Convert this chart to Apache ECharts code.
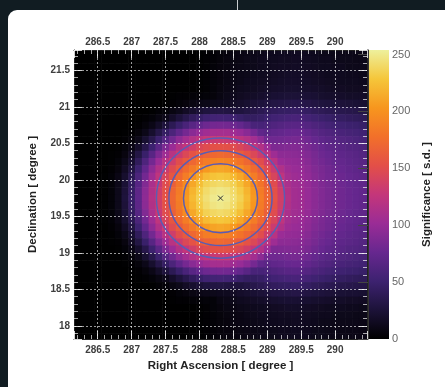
<!DOCTYPE html>
<html>
<head>
<meta charset="utf-8">
<script src="https://cdn.jsdelivr.net/npm/echarts@6.0.0/dist/echarts.min.js"></script>
<style>
  html, body { margin: 0; padding: 0; width: 445px; height: 387px; overflow: hidden; background: #111c22; }
  .card { position: absolute; left: 8px; top: 10px; width: 470px; height: 400px; background: #fff; border-radius: 9px; }
  .sep { position: absolute; left: 237px; top: 0; width: 1px; height: 10px; background: #c9cdd0; }
  #chart { position: absolute; left: 0; top: 0; width: 445px; height: 387px; }
</style>
</head>
<body>
<div class="card"></div>
<div class="sep"></div>
<div id="chart"></div>
<script>
// bin centres (degrees)
const raBins = [286.2, 286.3, 286.4, 286.5, 286.6, 286.7, 286.8, 286.9, 287.0, 287.1, 287.2,
  287.3, 287.4, 287.5, 287.6, 287.7, 287.8, 287.9, 288.0, 288.1, 288.2, 288.3,
  288.4, 288.5, 288.6, 288.7, 288.8, 288.9, 289.0, 289.1, 289.2, 289.3, 289.4,
  289.5, 289.6, 289.7, 289.8, 289.9, 290.0, 290.1, 290.2, 290.3, 290.4, 290.5];
const decBins = [21.75, 21.65, 21.55, 21.45, 21.35, 21.25, 21.15, 21.05, 20.95, 20.85,
  20.75, 20.65, 20.55, 20.45, 20.35, 20.25, 20.15, 20.05, 19.95, 19.85,
  19.75, 19.65, 19.55, 19.45, 19.35, 19.25, 19.15, 19.05, 18.95, 18.85,
  18.75, 18.65, 18.55, 18.45, 18.35, 18.25, 18.15, 18.05, 17.95, 17.85];

// significance per bin, rows top (21.75) to bottom (17.85), columns 286.2 -> 290.5
const sig = [
  [0,0,0,0,0,0,0,0,0,0,0,0,0,0,0,0,0,0,1,2,3, 5,6,8,9,10,11,12,13,13,14,14,15,15,14,13,12,12,11,11,11,11,10,10],
  [0,0,0,0,0,0,0,0,0,0,0,0,0,0,0,0,0,0,1,2,3, 5,7,8,9,11,12,13,14,14,15,15,16,16,15,14,13,13,12,12,12,11,11,11],
  [0,0,0,0,0,0,0,0,0,0,0,0,0,0,0,0,0,0,1,2,4, 6,7,9,10,11,12,13,14,15,16,16,17,17,16,15,14,14,13,13,12,12,12,12],
  [0,0,0,0,0,0,0,0,0,0,0,0,0,0,0,0,0,0,1,2,4, 6,8,9,11,12,13,14,15,16,17,18,18,18,17,16,15,14,14,14,13,13,12,12],
  [0,0,0,0,0,0,0,0,0,0,0,0,0,0,0,0,0,0,1,2,4, 6,8,10,11,13,14,15,16,17,18,19,19,19,18,17,16,15,15,14,14,14,13,13],
  [0,0,0,0,0,0,0,0,0,0,0,0,0,0,0,0,0,0,1,2,4, 7,9,11,13,14,15,17,18,19,20,21,21,21,20,19,18,17,16,16,15,15,15,14],
  [0,0,0,0,0,0,0,0,0,0,0,0,0,0,1,2,2,3,3,4,5, 8,11,13,15,17,18,20,22,23,24,25,25,25,24,23,21,20,20,19,18,18,18,17],
  [0,0,0,0,0,0,0,0,0,0,0,0,0,1,2,4,6,8,10,11,12, 13,14,18,20,22,25,27,29,31,32,33,34,34,32,30,28,27,26,26,25,24,23,23],
  [0,0,0,0,0,0,0,0,0,0,0,1,3,4,8,12,17,21,25,28,30, 31,30,28,28,31,34,37,40,42,44,45,46,46,44,41,39,37,36,35,34,33,32,32],
  [0,0,0,0,0,0,0,0,0,1,2,4,8,12,19,27,35,42,47,52,54, 55,54,52,47,44,44,46,50,53,55,57,58,58,55,52,49,47,45,44,42,41,40,40],
  [0,0,0,0,0,0,0,0,1,2,5,10,18,27,38,48,58,67,74,79,82, 83,82,79,74,67,58,57,59,62,65,67,68,68,65,61,58,55,53,52,50,49,47,47],
  [0,0,0,0,0,0,0,1,2,5,11,21,33,45,59,72,83,93,100,105,108, 109,108,105,100,93,83,72,69,72,74,76,77,77,73,69,65,62,60,58,56,55,53,53],
  [0,0,0,0,0,0,0,2,5,11,22,35,50,66,81,95,107,116,123,128,131, 132,131,128,123,116,107,95,81,80,81,83,84,84,80,75,71,68,66,64,62,60,58,58],
  [0,0,0,0,0,0,1,4,10,20,34,51,69,87,102,116,127,136,144,149,153, 154,153,149,144,136,127,116,102,87,88,89,90,89,85,80,76,72,70,68,65,64,62,61],
  [0,0,0,0,0,1,2,7,17,31,48,67,87,104,120,133,145,155,163,168,171, 173,171,168,163,155,145,133,120,104,95,95,94,93,89,84,79,76,73,71,69,67,65,64],
  [0,0,0,0,0,1,4,11,23,41,61,82,102,120,135,150,161,171,179,186,190, 192,190,186,179,171,161,150,135,120,102,99,98,97,92,86,82,78,75,74,71,69,67,66],
  [0,0,0,0,0,2,6,16,31,51,73,95,115,132,148,162,174,185,196,205,210, 212,210,205,196,185,174,162,148,132,115,104,101,100,95,89,85,81,78,76,73,71,69,68],
  [0,0,0,0,1,3,9,21,38,59,82,104,124,142,158,172,186,200,212,222,227, 229,227,222,212,200,186,172,158,142,124,108,104,102,97,91,86,82,80,78,75,73,71,70],
  [0,0,0,0,1,4,11,24,43,66,89,111,130,149,165,180,196,212,225,235,239, 241,239,235,225,212,196,180,165,149,130,111,106,104,99,93,88,84,81,79,76,74,72,71],
  [0,0,0,0,1,4,12,26,46,70,94,115,135,153,170,185,203,219,232,241,247, 249,247,241,232,219,203,185,170,153,135,115,107,105,100,94,89,85,82,80,77,75,73,72],
  [0,0,0,0,1,4,12,27,47,71,95,117,136,155,171,187,205,222,235,244,250, 252,250,244,235,222,205,187,171,155,136,117,107,105,100,94,89,85,82,80,77,75,73,72],
  [0,0,0,0,1,4,12,26,46,70,94,115,135,153,170,185,203,219,232,241,247, 249,247,241,232,219,203,185,170,153,135,115,107,105,100,94,89,85,82,80,77,75,73,72],
  [0,0,0,0,1,4,11,24,43,66,89,111,130,149,165,180,196,212,225,235,239, 241,239,235,225,212,196,180,165,149,130,111,106,104,99,93,88,84,81,79,76,74,72,71],
  [0,0,0,0,1,3,9,21,38,59,82,104,124,142,158,172,186,200,212,222,227, 229,227,222,212,200,186,172,158,142,124,108,104,102,97,91,86,82,80,78,75,73,71,70],
  [0,0,0,0,0,2,6,16,31,51,73,95,115,132,148,162,174,185,196,205,210, 212,210,205,196,185,174,162,148,132,115,104,101,100,95,89,85,81,78,76,73,71,69,68],
  [0,0,0,0,0,1,4,11,23,41,61,82,102,120,135,150,161,171,179,186,190, 192,190,186,179,171,161,150,135,120,102,99,98,97,92,86,82,78,75,74,71,69,67,66],
  [0,0,0,0,0,1,2,7,17,31,48,67,87,104,120,133,145,155,163,168,171, 173,171,168,163,155,145,133,120,104,95,95,94,93,89,84,79,76,73,71,69,67,65,64],
  [0,0,0,0,0,0,1,4,10,20,34,51,69,87,102,116,127,136,144,149,153, 154,153,149,144,136,127,116,102,87,88,89,90,89,85,80,76,72,70,68,65,64,62,61],
  [0,0,0,0,0,0,0,2,5,11,22,35,50,66,81,95,107,116,123,128,131, 132,131,128,123,116,107,95,81,80,81,83,84,84,80,75,71,68,66,64,62,60,58,58],
  [0,0,0,0,0,0,0,1,2,5,11,21,33,45,59,72,83,93,100,105,108, 109,108,105,100,93,83,72,69,72,74,76,77,77,73,69,65,62,60,58,56,55,53,53],
  [0,0,0,0,0,0,0,0,1,2,5,10,18,27,38,48,58,67,74,79,82, 83,82,79,74,67,58,57,59,62,65,67,68,68,65,61,58,55,53,52,50,49,47,47],
  [0,0,0,0,0,0,0,0,0,1,2,4,8,12,19,27,35,42,47,52,54, 55,54,52,47,44,44,46,50,53,55,57,58,58,55,52,49,47,45,44,42,41,40,40],
  [0,0,0,0,0,0,0,0,0,0,0,1,3,4,8,12,17,21,25,28,30, 31,30,28,28,31,34,37,40,42,44,45,46,46,44,41,39,37,36,35,34,33,32,32],
  [0,0,0,0,0,0,0,0,0,0,0,0,0,1,2,4,6,8,10,11,12, 13,14,17,19,21,23,25,27,29,30,31,32,32,30,28,27,26,25,24,23,23,22,22],
  [0,0,0,0,0,0,0,0,0,0,0,0,0,0,1,2,2,3,3,4,4, 8,10,12,14,15,17,18,20,21,22,23,23,23,22,21,20,19,18,18,17,17,16,16],
  [0,0,0,0,0,0,0,0,0,0,0,0,0,0,0,0,0,0,1,2,4, 6,8,9,11,12,13,14,15,16,17,18,18,18,17,16,15,14,14,14,13,13,12,12],
  [0,0,0,0,0,0,0,0,0,0,0,0,0,0,0,0,0,0,1,2,3, 5,7,8,9,11,12,13,14,14,15,15,16,16,15,14,13,13,12,12,12,11,11,11],
  [0,0,0,0,0,0,0,0,0,0,0,0,0,0,0,0,0,0,1,2,3, 5,6,8,9,10,11,12,13,13,14,14,15,15,14,13,12,12,11,11,11,11,10,10],
  [0,0,0,0,0,0,0,0,0,0,0,0,0,0,0,0,0,0,1,2,3, 5,6,7,8,9,10,11,12,12,13,13,14,14,13,12,12,11,11,10,10,10,9,9],
  [0,0,0,0,0,0,0,0,0,0,0,0,0,0,0,0,0,0,1,2,3, 5,6,7,8,9,10,11,12,12,13,13,14,14,13,12,12,11,11,10,10,10,9,9]
];

// best-fit position and the three error ellipses: [ra, dec, halfRA, halfDec]
const peak = [[288.31, 19.75]];
const contours = [
  [288.31, 19.75, 0.546, 0.473],
  [288.31, 19.75, 0.76, 0.65],
  [288.31, 19.75, 0.945, 0.823]
];

const SIG_MAX = 254;
const PAL = ['#000000', '#1c1238', '#3d2270', '#67278f', '#9a2c96', '#c4367a',
  '#e34f48', '#f2702a', '#f7961e', '#f5c63a', '#eef09c'];

const cells = [];
decBins.forEach((dec, r) => raBins.forEach((ra, c) => cells.push([ra, dec, sig[r][c]])));

const labelStyle = { fontFamily: 'Liberation Sans', fontSize: 10, fontWeight: 'bold', color: '#3e3e3e' };
const nameStyle = { fontFamily: 'Liberation Sans', fontSize: 11.5, fontWeight: 'bold', color: '#222' };
const tick = { show: true, inside: true, length: 8, lineStyle: { color: 'rgba(255,255,255,0.8)', width: 1 } };
const minor = { show: true, splitNumber: 5, length: 4, lineStyle: { color: 'rgba(255,255,255,0.65)', width: 1 } };
const split = { show: true, lineStyle: { color: 'rgba(255,255,255,0.6)', type: [2, 2], width: 1 } };
const frame = { show: true, onZero: false, lineStyle: { color: '#222', width: 1 } };

const chart = echarts.init(document.getElementById('chart'), null, { renderer: 'canvas' });
chart.setOption({
  animation: false,
  grid: [
    { left: 74, top: 50, width: 293, height: 289 },
    { left: 368, top: 50, width: 21, height: 289 }
  ],
  visualMap: {
    type: 'continuous', show: false, seriesIndex: 0, dimension: 2,
    min: 0, max: SIG_MAX, inRange: { color: PAL }
  },
  xAxis: [
    {
      gridIndex: 0, type: 'value', min: 286.15, max: 290.47, splitNumber: 8, position: 'bottom', z: 5,
      axisLine: frame, axisTick: tick, minorTick: minor, splitLine: split,
      axisLabel: Object.assign({ margin: 6, showMinLabel: false, showMaxLabel: false }, labelStyle),
      name: 'Right Ascension [ degree ]', nameLocation: 'middle', nameGap: 19, nameTextStyle: nameStyle
    },
    {
      gridIndex: 0, type: 'value', min: 286.15, max: 290.47, splitNumber: 8, position: 'top', z: 5,
      axisLine: frame, axisTick: tick, minorTick: minor, splitLine: { show: false },
      axisLabel: Object.assign({ margin: 3, showMinLabel: false, showMaxLabel: false }, labelStyle)
    },
    { gridIndex: 1, type: 'value', min: 0, max: 1, show: false }
  ],
  yAxis: [
    {
      gridIndex: 0, type: 'value', min: 17.82, max: 21.78, splitNumber: 8, position: 'left', z: 5,
      axisLine: frame, axisTick: tick, minorTick: minor, splitLine: split,
      axisLabel: Object.assign({ margin: 4, showMinLabel: false, showMaxLabel: false }, labelStyle),
      name: 'Declination [ degree ]', nameLocation: 'middle', nameGap: 35, nameRotate: 90, nameTextStyle: nameStyle
    },
    {
      gridIndex: 0, type: 'value', min: 17.82, max: 21.78, splitNumber: 8, position: 'right', z: 5,
      axisLine: frame, axisTick: tick, minorTick: minor, splitLine: { show: false },
      axisLabel: { show: false }
    },
    {
      gridIndex: 1, type: 'value', min: 0, max: SIG_MAX, interval: 50, position: 'right', z: 5,
      axisLine: { show: true, lineStyle: { color: '#333' } },
      axisTick: { show: true, inside: true, length: 10, lineStyle: { color: '#444' } },
      splitLine: { show: false },
      axisLabel: { margin: 3, showMaxLabel: false, fontFamily: 'Liberation Sans', fontSize: 11, color: '#666' },
      name: 'Significance [ s.d. ]', nameLocation: 'middle', nameGap: 32, nameRotate: 90, nameTextStyle: nameStyle
    }
  ],
  series: [
    {
      type: 'custom', xAxisIndex: 0, yAxisIndex: 0, clip: true, z: 2,
      data: cells,
      encode: { x: 0, y: 1 },
      renderItem: function (params, api) {
        const a = api.coord([api.value(0) - 0.05, api.value(1) + 0.05]);
        const b = api.coord([api.value(0) + 0.05, api.value(1) - 0.05]);
        return {
          type: 'rect',
          shape: { x: a[0], y: a[1], width: b[0] - a[0] + 0.6, height: b[1] - a[1] + 0.6 },
          style: { fill: api.visual('color') }
        };
      }
    },
    {
      type: 'custom', xAxisIndex: 0, yAxisIndex: 0, clip: true, z: 4,
      data: contours,
      renderItem: function (params, api) {
        const c = api.coord([api.value(0), api.value(1)]);
        const e = api.coord([api.value(0) + api.value(2), api.value(1) + api.value(3)]);
        return {
          type: 'ellipse',
          shape: { cx: c[0], cy: c[1], rx: Math.abs(e[0] - c[0]), ry: Math.abs(e[1] - c[1]) },
          style: { fill: 'none', stroke: '#5a5cb4', lineWidth: 1.5 }
        };
      }
    },
    {
      type: 'custom', xAxisIndex: 0, yAxisIndex: 0, z: 6,
      data: peak,
      renderItem: function (params, api) {
        const p = api.coord([api.value(0), api.value(1)]);
        const s = 2.5;
        const st = { stroke: '#333', lineWidth: 1 };
        return {
          type: 'group',
          children: [
            { type: 'line', shape: { x1: p[0] - s, y1: p[1] - s, x2: p[0] + s, y2: p[1] + s }, style: st },
            { type: 'line', shape: { x1: p[0] - s, y1: p[1] + s, x2: p[0] + s, y2: p[1] - s }, style: st }
          ]
        };
      }
    },
    {
      type: 'custom', xAxisIndex: 2, yAxisIndex: 2, z: 2,
      data: [[0]],
      renderItem: function (params, api) {
        const a = api.coord([0, SIG_MAX]);
        const b = api.coord([1, 0]);
        const stops = PAL.map((col, k) => ({ offset: k / (PAL.length - 1), color: col }));
        return {
          type: 'rect',
          shape: { x: a[0], y: a[1], width: b[0] - a[0], height: b[1] - a[1] },
          style: { fill: new echarts.graphic.LinearGradient(0, 1, 0, 0, stops) }
        };
      }
    }
  ]
});
</script>
</body>
</html>
